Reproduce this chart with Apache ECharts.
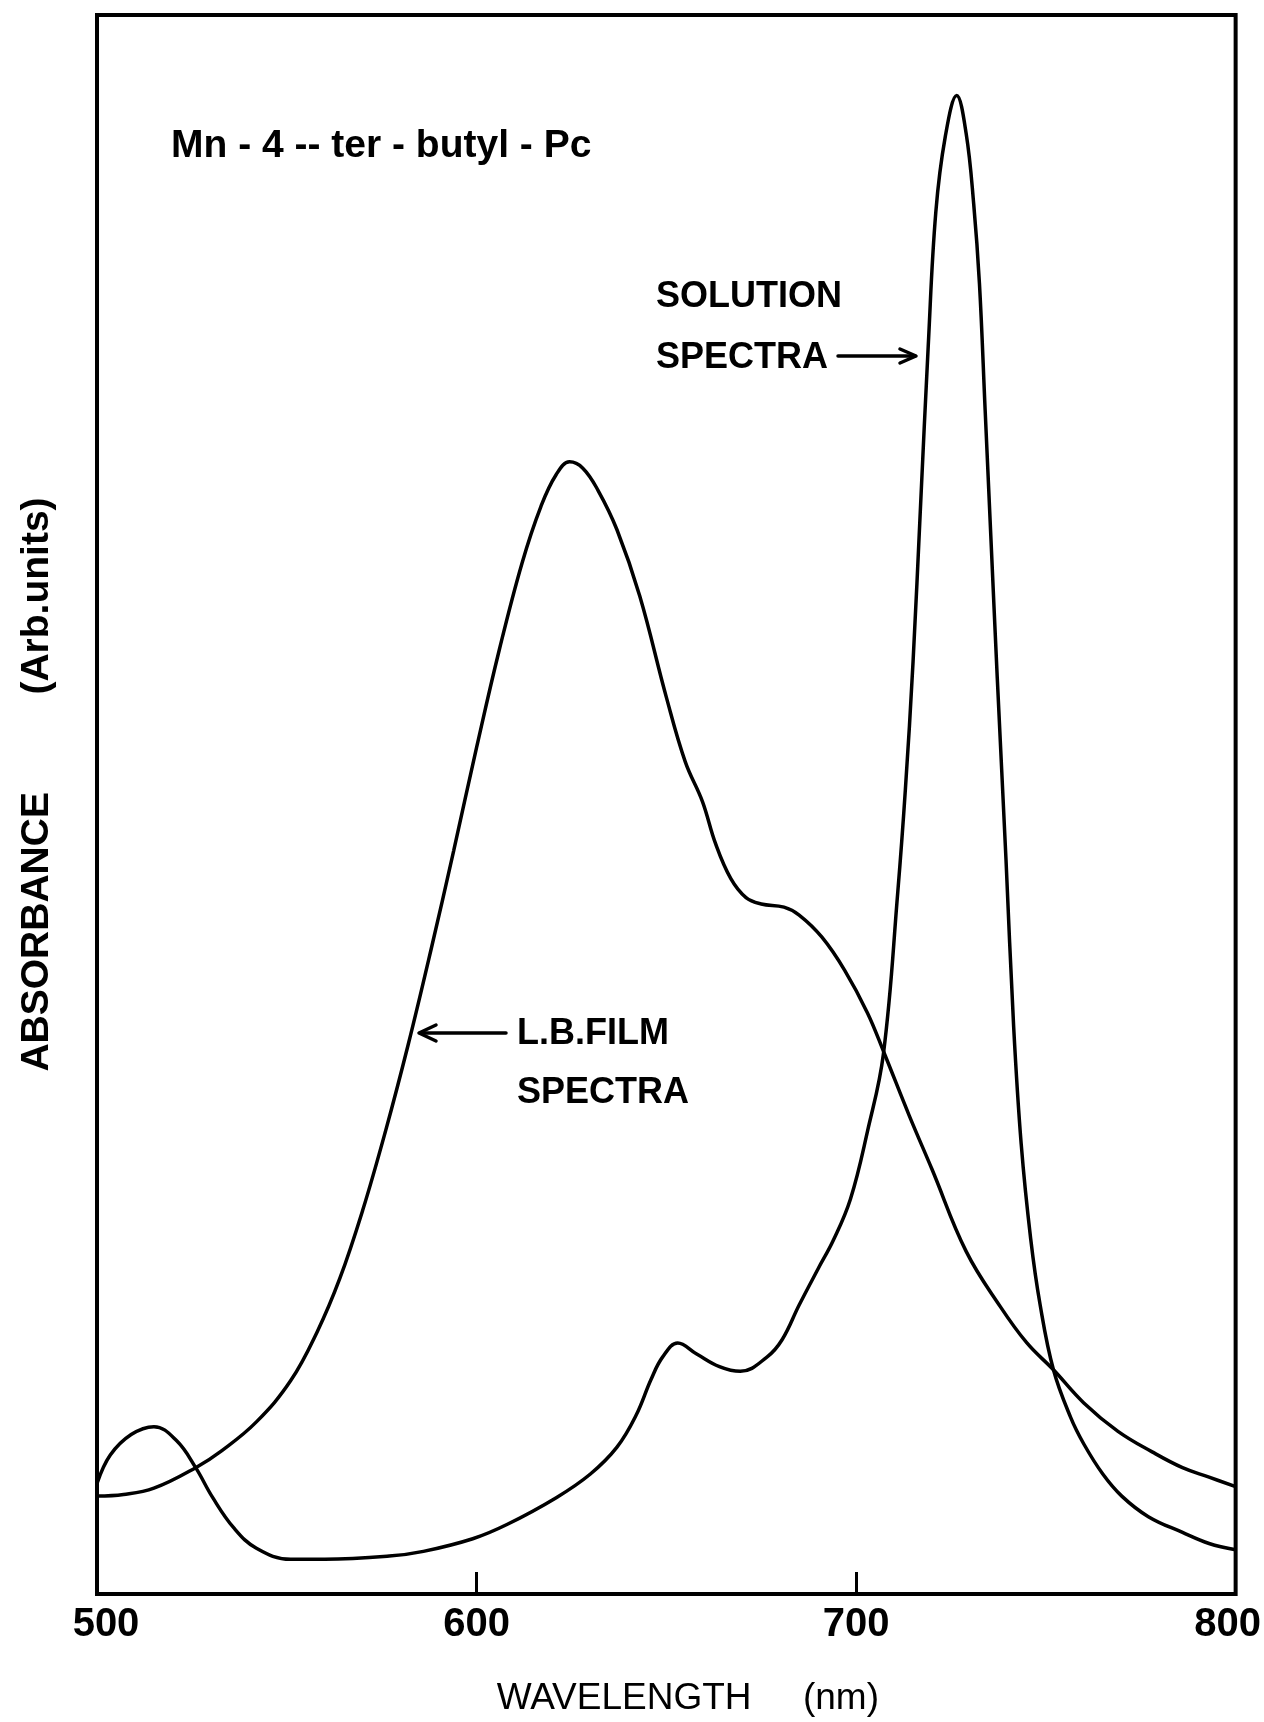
<!DOCTYPE html>
<html>
<head>
<meta charset="utf-8">
<script src="https://cdn.jsdelivr.net/npm/echarts@6/dist/echarts.min.js"></script>
<style>
html,body{margin:0;padding:0;background:#ffffff;}
#chart{width:1264px;height:1722px;}
</style>
</head>
<body>
<div id="chart"></div>
<script>
// ---- data (wavelength in nm, absorbance in arbitrary units 0-100) ----
const lbWavelength = [500,507,515,526,533,542,551,558,564,570,576,582,588,594,600,606,612,617,621,624.5,628,632,637,643,650,655,659.5,663,667,671,675,681,685,691,697,703,707.5,714,720,729,738,745,752,760,769,778,786,793,800];
const lbAbsorbance = [6.2,6.3,6.7,8.0,9.1,10.9,13.5,16.6,20.0,24.3,29.3,34.8,40.8,47.1,53.6,59.8,65.3,68.9,70.9,71.7,71.3,69.9,67.4,63.2,56.8,52.7,50.2,47.5,45.3,44.1,43.7,43.5,43.0,41.6,39.5,36.8,34.2,30.3,26.9,21.7,18.2,15.9,14.2,12.1,10.3,9.0,8.0,7.4,6.8];

const solWavelength = [500,503.5,509,515,521,526,530.5,536,542,551,560,577,586,599,608,621,630,637,642,646,649,653,658,664,669.5,676.5,680.5,685,690,694,698.5,703,707.2,711,713,715,717,719,721,723.5,726.5,729,731,732.5,734,735.5,737.2,739.5,741.5,743.5,746,748.5,752,756.5,760,765,770,777,786,793,800];
const solAbsorbance = [7.0,8.8,10.1,10.6,9.7,8.0,6.1,4.2,2.9,2.2,2.2,2.4,2.7,3.5,4.4,6.1,7.6,9.3,11.3,13.6,15.0,15.9,15.2,14.4,14.1,15.0,16.1,18.3,20.6,22.4,25.0,29.3,34.2,44.5,51,59,69,79,87.5,92.3,94.9,92.5,88,83,75,67,58,46.5,36,28.5,22.5,18.3,14.2,11.2,9.5,7.6,6.2,4.9,3.9,3.2,2.8];

const xTickValues = [500, 600, 700, 800];
const xAxisTitle = 'WAVELENGTH     (nm)';
const yAxisTitle = 'ABSORBANCE         (Arb.units)';
const compoundLabel = 'Mn - 4 -- ter - butyl - Pc';
const solutionLabel = ['SOLUTION', 'SPECTRA'];
const filmLabel = ['L.B.FILM', 'SPECTRA'];

const FONT = "'Liberation Sans', Arial, sans-serif";

const chart = echarts.init(document.getElementById('chart'), null, {renderer: 'canvas'});

function pairs(xs, ys) { return xs.map((x, i) => [x, ys[i]]); }

function txt(text, x, y, size, weight) {
  return {
    type: 'text', x: x, y: y, z: 100,
    style: {text: text, fill: '#000', fontSize: size, fontWeight: weight || 'bold',
            fontFamily: FONT, align: 'left', verticalAlign: 'middle'}
  };
}
function line(points, w) {
  return {
    type: 'polyline', z: 100,
    shape: {points: points},
    style: {stroke: '#000', lineWidth: w || 3.5, fill: null, lineCap: 'round', lineJoin: 'round'}
  };
}

const option = {
  animation: false,
  backgroundColor: '#ffffff',
  grid: {left: 97, right: 28, top: 15, bottom: 126, show: true,
         borderColor: '#000', borderWidth: 4, backgroundColor: 'transparent'},
  xAxis: {
    type: 'value', min: 500, max: 800, interval: 100,
    name: xAxisTitle, nameLocation: 'middle', nameGap: 86,
    nameTextStyle: {fontSize: 37, fontFamily: FONT, fontWeight: 'normal', color: '#000', padding: [0, 0, 0, 43]},
    axisLine: {show: false},
    axisTick: {show: true, inside: true, length: 22, lineStyle: {color: '#000', width: 3}},
    splitLine: {show: false},
    axisLabel: {
      show: true, margin: 11, color: '#000',
      fontSize: 40, fontWeight: 'bold', fontFamily: FONT,
      customValues: xTickValues,
      formatter: function (v) {
        if (v === xTickValues[0]) return '{first|' + v + '}';
        if (v === xTickValues[xTickValues.length - 1]) return '{last|' + v + '}';
        return '{mid|' + v + '}';
      },
      rich: {
        first: {fontSize: 40, fontWeight: 'bold', fontFamily: FONT, color: '#000', padding: [0, 0, 0, 18]},
        last: {fontSize: 40, fontWeight: 'bold', fontFamily: FONT, color: '#000', padding: [0, 16, 0, 0]},
        mid: {fontSize: 40, fontWeight: 'bold', fontFamily: FONT, color: '#000'}
      }
    }
  },
  yAxis: {
    type: 'value', min: 0, max: 100,
    name: yAxisTitle, nameLocation: 'middle', nameGap: 40,
    nameTextStyle: {fontSize: 39, fontFamily: FONT, fontWeight: 'bold', color: '#000', padding: [0, 0, 0, 40]},
    axisLine: {show: false}, axisTick: {show: false}, axisLabel: {show: false}, splitLine: {show: false}
  },
  series: [
    {
      name: 'L.B. film spectra', type: 'line', data: pairs(lbWavelength, lbAbsorbance),
      showSymbol: false, symbol: 'none', smooth: 0.4,
      lineStyle: {color: '#000', width: 3.5}, z: 5
    },
    {
      name: 'Solution spectra', type: 'line', data: pairs(solWavelength, solAbsorbance),
      showSymbol: false, symbol: 'none', smooth: 0.4,
      lineStyle: {color: '#000', width: 3.5}, z: 5
    }
  ],
  graphic: [
    txt(compoundLabel, 171, 146, 39),
    txt(solutionLabel[0], 656, 297, 36),
    txt(solutionLabel[1], 656, 358, 36),
    line([[838, 356], [915, 356]], 3.5),
    line([[900, 349], [916, 356], [900, 363]], 3.5),
    txt(filmLabel[0], 517, 1034, 36),
    txt(filmLabel[1], 517, 1093, 36),
    line([[506, 1033], [420, 1033]], 3.5),
    line([[436, 1025], [419, 1033], [436, 1041]], 3.5)
  ]
};
chart.setOption(option);
</script>
</body>
</html>
